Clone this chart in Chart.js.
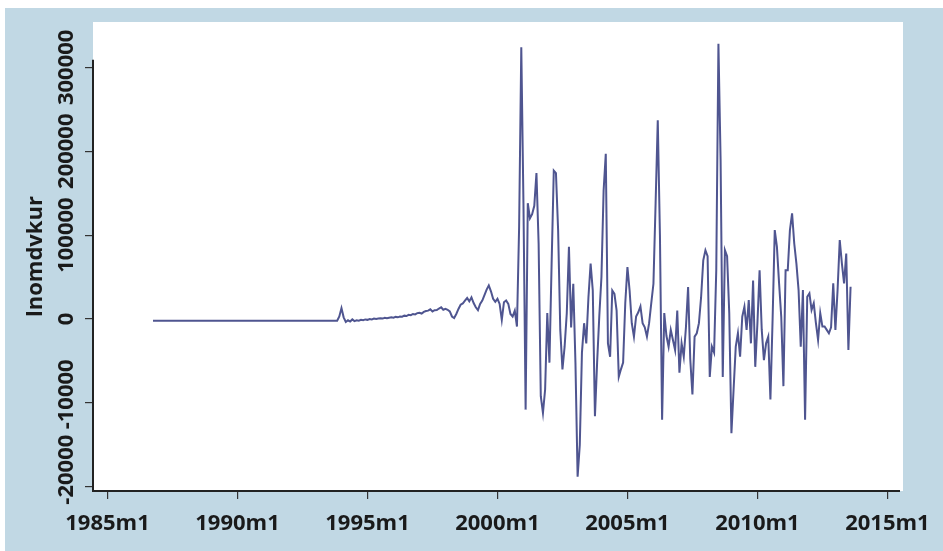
<!DOCTYPE html>
<html>
<head>
<meta charset="utf-8">
<script src="https://cdn.jsdelivr.net/npm/chart.js@4.4.1/dist/chart.umd.min.js"></script>
<style>
html, body { margin: 0; padding: 0; background: #fff; }
#wrap { width: 943px; height: 551px; }
</style>
</head>
<body>
<div id="wrap"><canvas id="chart" width="943" height="551"></canvas></div>
<script>
// monthly series, first value is 1986m10, one row per year
const startYear = 1986, startMonth = 10;
const values = [
	[-2000, -2000, -2000],
	[-2000, -2000, -2000, -2000, -2000, -2000, -2000, -2000, -2000, -2000, -2000, -2000],
	[-2000, -2000, -2000, -2000, -2000, -2000, -2000, -2000, -2000, -2000, -2000, -2000],
	[-2000, -2000, -2000, -2000, -2000, -2000, -2000, -2000, -2000, -2000, -2000, -2000],
	[-2000, -2000, -2000, -2000, -2000, -2000, -2000, -2000, -2000, -2000, -2000, -2000],
	[-2000, -2000, -2000, -2000, -2000, -2000, -2000, -2000, -2000, -2000, -2000, -2000],
	[-2000, -2000, -2000, -2000, -2000, -2000, -2000, -2000, -2000, -2000, -2000, -2000],
	[-2000, -2000, -2000, -2000, -2000, -2000, -2000, -2000, -2000, -2000, -2000, 3000],
	[13000, 2000, -3500, -1500, -3000, -500, -2500, -1500, -2000, -1000, -1500, -500],
	[-1000, 0, -500, 500, 0, 500, 1000, 500, 1500, 1000, 1500, 2000],
	[1500, 2500, 2000, 3000, 2800, 4000, 3500, 5000, 4500, 6000, 5500, 7000],
	[7500, 6500, 8500, 9500, 10000, 11500, 9000, 10500, 10700, 12500, 14000, 11000],
	[12000, 11000, 9000, 3000, 1200, 6000, 12000, 17000, 18500, 22000, 25000, 21000],
	[25800, 19000, 14000, 10500, 18000, 22000, 28500, 35000, 40000, 33000, 24000, 20500],
	[24000, 18000, -1000, 20000, 22000, 18000, 6000, 3000, 10000, -9000, 110000, 324000],
	[138000, -108000, 138000, 120000, 125000, 135000, 174000, 90000, -92000, -112000, -84000, 7000],
	[-52000, 66000, 177000, 174000, 106000, -13000, -60000, -33000, 7000, 86000, -10000, 42000],
	[-52000, -188000, -150000, -40000, -5000, -29000, 26000, 66000, 34000, -116000, -52000, 3000],
	[50000, 153000, 197000, -29000, -45000, 34000, 30000, 10000, -69000, -60000, -52000, 19000],
	[62000, 34000, -5000, -21000, 3000, 8000, 15000, -5000, -10000, -21000, -5000, 19000],
	[42000, 138000, 237000, 100000, -120000, 7000, -20000, -33000, -13000, -25000, -37000, 10000],
	[-64000, -29000, -45000, -10000, 38000, -48000, -90000, -21000, -17000, -5000, 26000, 70000],
	[82000, 75000, -69000, -33000, -40000, 58000, 328000, 190000, -69000, 82000, 75000, 7000],
	[-136000, -84000, -33000, -17000, -45000, 2700, 14600, -13000, 22600, -29000, 46000, -57000],
	[-5000, 58000, -13000, -49000, -29000, -21000, -96000, -1000, 106000, 86000, 42500, 2700],
	[-80000, 58000, 58000, 106000, 126000, 90000, 66000, 34500, -33000, 34500, -120000, 26500],
	[30500, 10700, 18700, -5000, -25000, 7000, -9000, -9000, -13000, -17000, -10000, 42500],
	[-13000, 34500, 94000, 66000, 42500, 78000, -37000, 38500]
];
const xTickLabels = ['1985m1', '1990m1', '1995m1', '2000m1', '2005m1', '2010m1', '2015m1'];
const yTickValues = [-200000, -100000, 0, 100000, 200000, 300000];
const yTickLabels = ['-20000', '-10000', '0', '100000', '200000', '300000'];
const yAxisTop = 309000;

const monthIndex = lbl => {
	const [yr, mo] = lbl.split('m').map(Number);
	return (yr - 1985) * 12 + mo - 1;
};
const first = (startYear - 1985) * 12 + startMonth - 1;
const points = values.flat().map((v, i) => ({x: first + i, y: v}));

const tickFont = {family: '"Open Sans", sans-serif', size: 22, weight: 'bold'};

// negative labels sit a little above their ticks in the original
const yLabel = v => (v < 0 ? ' '.repeat(Math.round(-v / 100000) * 3) : '') + yTickLabels[yTickValues.indexOf(v)];

// crossAlign 'center' offsets by half the widest label, so measure it
const measure = document.createElement('canvas').getContext('2d');
measure.font = 'bold 22px "Open Sans", sans-serif';
const widestY = Math.max(...yTickValues.map(v => measure.measureText(yLabel(v)).width));
const yLabelCenter = 67;

const panel = {
	id: 'panel',
	beforeDraw: chart => {
		const {ctx, chartArea: a, width, height} = chart;
		ctx.save();
		ctx.fillStyle = '#ffffff';
		ctx.fillRect(0, 0, width, height);
		ctx.fillStyle = '#c1d8e4';
		ctx.fillRect(5, 8, width - 5, height - 8);
		ctx.fillStyle = '#ffffff';
		ctx.fillRect(a.left, a.top, a.right - a.left, a.bottom - a.top);
		ctx.restore();
	},
	afterDraw: chart => {
		const {ctx, chartArea: a, scales: {y}} = chart;
		ctx.save();
		ctx.strokeStyle = '#222';
		ctx.lineWidth = 2;
		ctx.beginPath();
		ctx.moveTo(a.left, y.getPixelForValue(yAxisTop));
		ctx.lineTo(a.left, a.bottom);
		ctx.lineTo(a.right - 3, a.bottom);
		ctx.stroke();
		ctx.restore();
	}
};

new Chart(document.getElementById('chart'), {
	type: 'line',
	data: {
		datasets: [{
			label: 'lnomdvkur',
			data: points,
			borderColor: '#4f5590',
			borderWidth: 2,
			pointRadius: 0,
			tension: 0
		}]
	},
	options: {
		responsive: false,
		animation: false,
		layout: {padding: {left: 19, top: 22, right: 40, bottom: 0}},
		plugins: {
			legend: {display: false},
			tooltip: {enabled: false}
		},
		scales: {
			x: {
				type: 'linear',
				min: -6.7,
				max: 367.2,
				afterBuildTicks: s => { s.ticks = xTickLabels.map(l => ({value: monthIndex(l)})); },
				afterFit: s => { s.height = 60; },
				border: {display: false},
				grid: {drawOnChartArea: false, tickLength: 8, color: '#333', lineWidth: 1.2},
				ticks: {
					autoSkip: false,
					maxRotation: 0,
					padding: 12,
					color: '#1a1a1a',
					font: tickFont,
					callback: v => xTickLabels.find(l => monthIndex(l) === v)
				}
			},
			y: {
				min: -205000,
				max: 354000,
				afterBuildTicks: s => { s.ticks = yTickValues.map(v => ({value: v})); },
				afterFit: s => { s.width = 74; },
				border: {display: false},
				grid: {drawOnChartArea: false, tickLength: 8, color: '#333', lineWidth: 1.2},
				ticks: {
					autoSkip: false,
					minRotation: 90,
					maxRotation: 90,
					crossAlign: 'center',
					padding: 93 - 8 - widestY / 2 - yLabelCenter,
					color: '#1a1a1a',
					font: tickFont,
					callback: yLabel
				},
				title: {
					display: true,
					text: 'lnomdvkur',
					color: '#1a1a1a',
					font: tickFont,
					padding: {top: 4, bottom: 4}
				}
			}
		}
	},
	plugins: [panel]
});
</script>
</body>
</html>
